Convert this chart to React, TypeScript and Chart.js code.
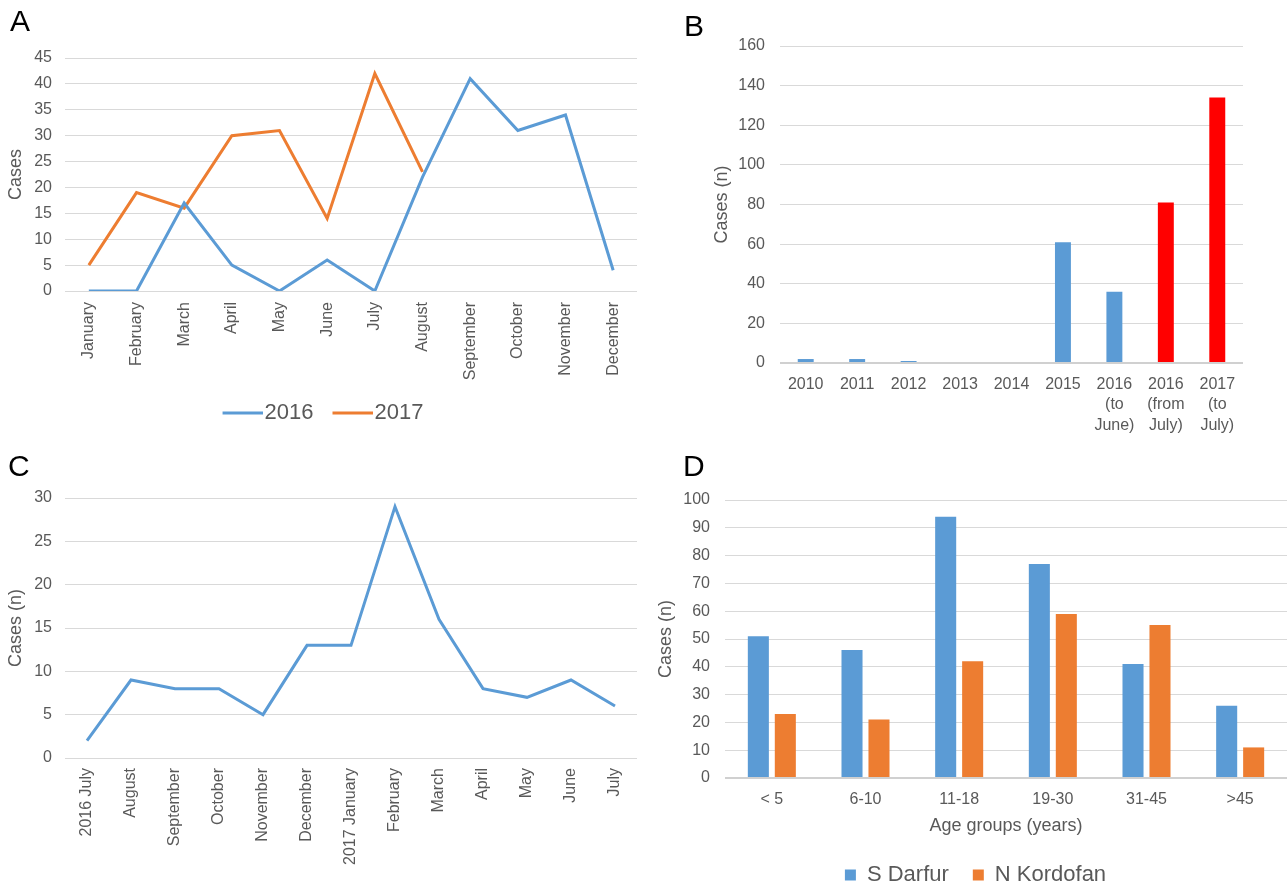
import React, { useEffect, useRef } from 'react';
import { Chart, registerables } from 'chart.js';

Chart.register(...registerables);

const FONT = "'Liberation Sans', Arial, Helvetica, sans-serif";
const TICK = '#595959';
const GRID = '#D9D9D9';
const ZERO = '#D0D0D0';
const BLUE = '#5B9BD5';
const ORANGE = '#ED7D31';
const RED = '#FF0000';

// Panel A
const monthsA = ['January', 'February', 'March', 'April', 'May', 'June', 'July', 'August', 'September', 'October', 'November', 'December'];
const cases2016 = [0, 0, 17, 5, 0, 6, 0, 22, 41, 31, 34, 4];
const cases2017 = [5, 19, 16, 30, 31, 14, 42, 23];

// Panel B
const periodsB = [['2010'], ['2011'], ['2012'], ['2013'], ['2014'], ['2015'], ['2016', '(to', 'June)'], ['2016', '(from', 'July)'], ['2017', '(to', 'July)']];
const casesB = [2, 2, 1, 0, 0, 61, 36, 81, 134];
const outbreakB = [false, false, false, false, false, false, false, true, true];

// Panel C
const monthsC = ['2016 July', 'August', 'September', 'October', 'November', 'December', '2017 January', 'February', 'March', 'April', 'May', 'June', 'July'];
const casesC = [2, 9, 8, 8, 5, 13, 13, 29, 16, 8, 7, 9, 6];

// Panel D
const ageGroups = ['< 5', '6-10', '11-18', '19-30', '31-45', '>45'];
const sDarfur = [51, 46, 94, 77, 41, 26];
const nKordofan = [23, 21, 42, 59, 55, 11];

Chart.defaults.font.family = FONT;
Chart.defaults.color = TICK;

// legend line symbol: 40px line placed just left of the label text
function legendLine(color: string) {
  const c = document.createElement('canvas');
  c.width = 58;
  c.height = 4;
  const g = c.getContext('2d');
  if (g) {
    g.fillStyle = color;
    g.fillRect(18, 0.5, 40, 3);
  }
  return c;
}

function yScale(max: number, step: number, width: number, tickPad: number, titleText: string, titlePad: number, thickZero: boolean) {
  return {
    min: 0,
    max,
    ticks: { stepSize: step, padding: tickPad, font: { size: 16 }, color: TICK },
    grid: {
      drawTicks: false,
      color: (c: any) => (thickZero && c.tick && c.tick.value === 0 ? ZERO : GRID),
      lineWidth: (c: any) => (thickZero && c.tick && c.tick.value === 0 ? 2 : 1),
    },
    border: { display: false },
    title: { display: true, text: titleText, font: { size: 18 }, color: TICK, padding: { top: titlePad, bottom: 0 } },
    afterFit: (s: any) => { s.width = width; },
  };
}

function xScale(height: number, tickPad: number, rotate: boolean, lineHeight: number, extra: any = {}) {
  return {
    offset: true,
    grid: { display: false, drawTicks: false },
    border: { display: false },
    ticks: {
      autoSkip: false,
      maxRotation: rotate ? 90 : 0,
      minRotation: rotate ? 90 : 0,
      padding: tickPad,
      font: { size: 16, lineHeight },
      color: TICK,
    },
    afterFit: (s: any) => { s.height = height; },
    ...extra,
  };
}

const configA = () => ({
  type: 'line',
  data: {
    labels: monthsA,
    datasets: [
      { label: '2016', data: cases2016, borderColor: BLUE, backgroundColor: BLUE, borderWidth: 3, pointRadius: 0, pointStyle: legendLine(BLUE), tension: 0 },
      { label: '2017', data: cases2017, borderColor: ORANGE, backgroundColor: ORANGE, borderWidth: 3, pointRadius: 0, pointStyle: legendLine(ORANGE), tension: 0 },
    ],
  },
  options: {
    responsive: false,
    animation: false,
    layout: { padding: { left: 0, top: 58, right: 23, bottom: 6 } },
    plugins: {
      legend: {
        position: 'bottom',
        labels: { usePointStyle: true, pointStyleWidth: 40, font: { size: 22 }, color: TICK, padding: 10 },
      },
      tooltip: { enabled: false },
    },
    scales: {
      x: xScale(101, 11, true, 1.2),
      y: yScale(45, 5, 65, 13, 'Cases', 5, false),
    },
  },
});

const configB = () => ({
  type: 'bar',
  data: {
    labels: periodsB,
    datasets: [
      {
        label: 'Cases',
        data: casesB,
        backgroundColor: outbreakB.map((o) => (o ? RED : BLUE)),
        categoryPercentage: 1,
        barPercentage: 0.31,
      },
    ],
  },
  options: {
    responsive: false,
    animation: false,
    layout: { padding: { left: 0, top: 46, right: 45, bottom: 0 } },
    plugins: { legend: { display: false }, tooltip: { enabled: false } },
    scales: {
      x: xScale(77, 11, false, 1.28),
      y: yScale(160, 20, 100, 15, 'Cases (n)', 31, true),
    },
  },
});

const configC = () => ({
  type: 'line',
  data: {
    labels: monthsC,
    datasets: [
      { label: 'Cases', data: casesC, borderColor: BLUE, backgroundColor: BLUE, borderWidth: 3, pointRadius: 0, tension: 0 },
    ],
  },
  options: {
    responsive: false,
    animation: false,
    layout: { padding: { left: 0, top: 58, right: 23, bottom: 0 } },
    plugins: { legend: { display: false }, tooltip: { enabled: false } },
    scales: {
      x: xScale(129, 10, true, 1.2),
      y: yScale(30, 5, 65, 13, 'Cases (n)', 5, false),
    },
  },
});

const configD = () => ({
  type: 'bar',
  data: {
    labels: ageGroups,
    datasets: [
      { label: 'S Darfur', data: sDarfur, backgroundColor: BLUE, categoryPercentage: 0.576, barPercentage: 0.78 },
      { label: 'N Kordofan', data: nKordofan, backgroundColor: ORANGE, categoryPercentage: 0.576, barPercentage: 0.78 },
    ],
  },
  options: {
    responsive: false,
    animation: false,
    layout: { padding: { left: 14, top: 60, right: 1, bottom: 0 } },
    plugins: {
      legend: {
        position: 'bottom',
        labels: { boxWidth: 11, boxHeight: 11, font: { size: 22 }, color: TICK, padding: 24 },
      },
      tooltip: { enabled: false },
    },
    scales: {
      x: xScale(62, 12, false, 1.2, {
        title: { display: true, text: 'Age groups (years)', font: { size: 18 }, color: TICK, padding: { top: 0, bottom: 3 } },
      }),
      y: yScale(100, 10, 61, 15, 'Cases (n)', -9, true),
    },
  },
});

function Panel(props: { left: number; top: number; width: number; height: number; make: () => any }) {
  const ref = useRef<HTMLCanvasElement | null>(null);
  useEffect(() => {
    if (!ref.current) return;
    const chart = new Chart(ref.current, props.make());
    return () => chart.destroy();
  }, []);
  return (
    <canvas
      ref={ref}
      width={props.width}
      height={props.height}
      style={{ position: 'absolute', left: props.left, top: props.top, width: props.width, height: props.height }}
    />
  );
}

function Letter(props: { text: string; left: number; top: number }) {
  return (
    <div
      style={{
        position: 'absolute',
        left: props.left,
        top: props.top,
        fontFamily: FONT,
        fontSize: 30,
        lineHeight: '30px',
        color: '#000',
      }}
    >
      {props.text}
    </div>
  );
}

export default function App() {
  return (
    <div style={{ position: 'fixed', left: 0, top: 0, width: 1288, height: 887, overflow: 'hidden', background: '#fff' }}>
      <Panel left={0} top={0} width={660} height={440} make={configA} />
      <Panel left={680} top={0} width={608} height={440} make={configB} />
      <Panel left={0} top={440} width={660} height={447} make={configC} />
      <Panel left={650} top={440} width={638} height={456} make={configD} />
      <Letter text="A" left={10} top={6} />
      <Letter text="B" left={684} top={11} />
      <Letter text="C" left={8} top={451} />
      <Letter text="D" left={683} top={451} />
    </div>
  );
}
